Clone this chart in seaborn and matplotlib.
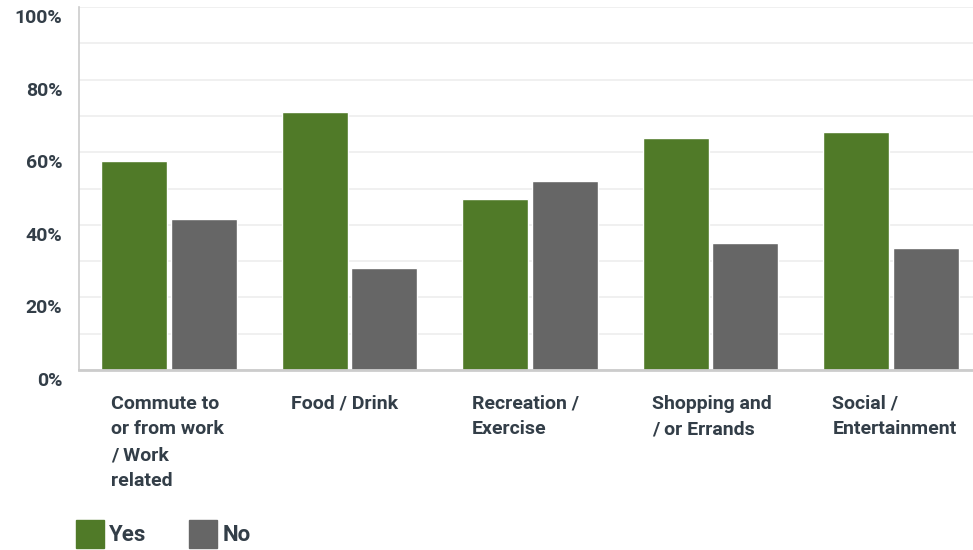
import numpy as np
import pandas as pd
import matplotlib
matplotlib.use('Agg')
import matplotlib.pyplot as plt
import matplotlib.patches as mpatches
import matplotlib.transforms as mtransforms
import seaborn as sns

# datos
categorias = ['Commute to\nor from work\n/ Work\nrelated', 'Food / Drink',
              'Recreation /\nExercise', 'Shopping and\n/ or Errands',
              'Social /\nEntertainment']
si = [57.7, 71.2, 47.2, 64.0, 65.6]
no = [41.7, 28.2, 52.2, 35.0, 33.7]
series = ['Yes', 'No']
y_ticks = [0, 20, 40, 60, 80, 100]

VERDE = '#507a28'
GRIS = '#666666'
TXT = '#333e48'

sns.set_style('white')
plt.rcParams['font.family'] = ['Roboto', 'DejaVu Sans']

df = pd.DataFrame({
    'cat': categorias * 2,
    'serie': ['Yes'] * len(si) + ['No'] * len(no),
    'valor': si + no,
})

fig = plt.figure(figsize=(9.73, 5.5), dpi=100, facecolor='white')
ax = fig.add_axes([79/973, 1 - 370/550, 902/973, 363/550])

sns.barplot(data=df, x='cat', y='valor', hue='serie', hue_order=series,
            palette={'Yes': VERDE, 'No': GRIS}, width=0.77, gap=0.05,
            saturation=1, ax=ax, legend=False, errorbar=None)

ax.set_ylim(0, 100)
ax.set_xlim(-0.5, len(categorias) - 0.5)
ax.set_yticks(np.arange(0, 101, 10), minor=True)
ax.set_yticks(y_ticks)
ax.set_yticklabels([f'{v}%' for v in y_ticks], fontsize=14, fontweight='bold', color=TXT)
ax.yaxis.grid(True, which='both', color='#eeeeee', linewidth=1.2)
ax.set_axisbelow(True)
ax.tick_params(axis='y', which='both', length=0, pad=12)
off = mtransforms.ScaledTranslation(0, -9/100, fig.dpi_scale_trans)
for lab in ax.get_yticklabels():
    lab.set_transform(lab.get_transform() + off)
    lab.set_horizontalalignment('right')

ax.set_xticks([])
ax.set_xlabel('')
ax.set_ylabel('')
trans = mtransforms.blended_transform_factory(ax.transData, ax.transAxes)
for i, c in enumerate(categorias):
    ax.text(i - 0.324, -0.068, c, transform=trans, ha='left', va='top',
            fontsize=14, fontweight='bold', color=TXT, linespacing=1.55)

for s in ['top', 'right']:
    ax.spines[s].set_visible(False)
ax.spines['left'].set_color('#cccccc')
ax.spines['left'].set_linewidth(1.2)
ax.spines['bottom'].set_color('#cccccc')
ax.spines['bottom'].set_linewidth(2)

handles = [mpatches.Patch(color=VERDE, label='Yes'), mpatches.Patch(color=GRIS, label='No')]
leg = fig.legend(handles=handles, loc='lower left', bbox_to_anchor=(56/973, -0.033),
                 ncol=2, frameon=False, handlelength=1.25, handleheight=1.6,
                 handletextpad=0.25, columnspacing=1.9,
                 prop={'family': 'Roboto', 'weight': 'bold', 'size': 16})
for t in leg.get_texts():
    t.set_color(TXT)

fig.savefig('out.png', dpi=100, facecolor='white')
